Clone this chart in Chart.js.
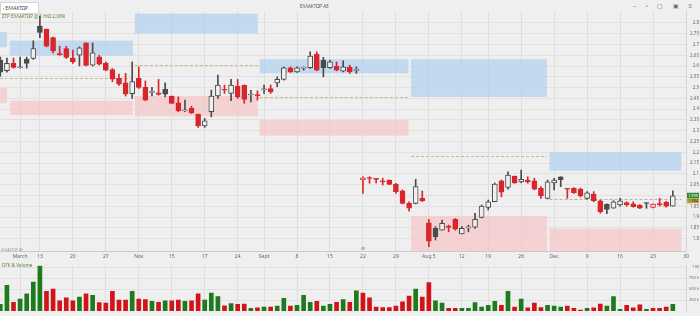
<!DOCTYPE html>
<html>
<head>
<meta charset="utf-8">
<script src="https://cdn.jsdelivr.net/npm/chart.js@4.4.1/dist/chart.umd.min.js"></script>
<style>
body{margin:0;background:#efefef;font-family:"Noto Sans",sans-serif;}
#wrap{position:relative;width:700px;height:316px;overflow:hidden;background:#efefef;}
#cPrice{position:absolute;left:0;top:0;}
#cVol{position:absolute;left:0;top:262px;}
.txt{position:absolute;white-space:nowrap;font-size:4.5px;color:#444;}
#sym{left:0;top:2px;width:35px;height:10px;background:#fff;border:1px solid #d6d6d6;line-height:10px;padding-left:2px;color:#333;}
#title{left:300px;top:3px;color:#555;}
#leg{left:2px;top:13px;color:#5f7f3f;}
#bottomName{left:1px;top:247px;color:#999;font-size:3.5px;}
#volName{left:2px;top:262px;color:#4f7f2f;}
#icons{right:4px;top:2px;color:#666;font-size:6px;letter-spacing:4px;}
#evt{left:361px;top:245px;color:#777;font-size:5px;}
</style>
</head>
<body>
<div id="wrap">
  <canvas id="cPrice" width="700" height="262"></canvas>
  <canvas id="cVol" width="700" height="54"></canvas>
  <div class="txt" id="sym">‹ ΕΛΛΑΚΤΩΡ</div>
  <div class="txt" id="title">ΕΛΛΑΚΤΩΡ ΑΕ</div>
  <div class="txt" id="leg">ΣΤΡ ΕΛΛΑΚΤΩΡ @ 1 Η/Ω 2,06%</div>
  <div class="txt" id="bottomName">ΕΛΛΑΚΤΩΡ ΑΕ</div>
  <div class="txt" id="volName">ΟΓΚ &amp; Volume</div>
  <div class="txt" id="icons">– ▫ ▢ ▣ ≡</div>
  <div class="txt" id="evt">⊜</div>
</div>
<script>
// daily candles
let opens  = [2.627,2.578,2.612,2.592,2.632,2.635,2.785,2.771,2.732,2.658,2.681,2.638,2.650,2.707,2.604,2.643,2.612,2.584,2.543,2.522,
              2.472,2.543,2.501,2.478,2.476,2.492,2.461,2.430,2.392,2.404,2.377,2.322,2.388,2.461,2.491,2.473,2.507,2.512,2.466,2.466,
              2.490,2.496,2.522,2.538,2.592,2.573,2.590,2.592,2.654,2.627,2.592,2.600,2.576,2.594,2.580,
              2.072,2.081,2.076,2.065,2.072,2.052,2.022,1.964,1.964,1.987,1.874,1.848,1.840,1.859,1.890,1.822,1.850,1.853,1.899,1.945,
              1.971,2.068,2.038,2.090,2.063,2.072,2.068,2.033,1.987,2.059,2.087,2.031,2.033,2.029,1.987,2.007,1.976,1.959,1.941,1.956,
              1.967,1.961,1.955,1.965,1.945,1.959,1.968,1.951];
let highs  = [2.641,2.637,2.637,2.641,2.641,2.717,2.831,2.771,2.734,2.692,2.692,2.674,2.689,2.707,2.707,2.650,2.619,2.589,2.563,2.566,
              2.619,2.596,2.531,2.501,2.538,2.522,2.461,2.457,2.442,2.414,2.377,2.357,2.488,2.558,2.512,2.538,2.538,2.512,2.488,2.485,
              2.512,2.512,2.550,2.596,2.596,2.596,2.596,2.666,2.666,2.640,2.627,2.619,2.624,2.604,2.596,
              2.087,2.087,2.078,2.080,2.072,2.057,2.026,1.971,2.075,2.021,1.890,1.856,1.886,1.863,1.893,1.856,1.863,1.918,1.956,1.979,
              2.058,2.072,2.110,2.090,2.118,2.087,2.080,2.041,2.072,2.080,2.087,2.033,2.037,2.035,2.018,2.018,1.979,1.961,1.976,1.987,
              1.971,1.971,1.958,1.966,1.962,1.987,1.973,2.022];
let lows   = [2.553,2.572,2.590,2.590,2.590,2.631,2.732,2.689,2.661,2.650,2.635,2.612,2.600,2.600,2.600,2.604,2.578,2.527,2.510,2.461,
              2.450,2.496,2.439,2.461,2.465,2.457,2.427,2.388,2.388,2.380,2.316,2.316,2.365,2.450,2.473,2.439,2.450,2.427,2.434,2.442,
              2.473,2.473,2.504,2.535,2.570,2.570,2.581,2.589,2.578,2.550,2.589,2.578,2.573,2.566,2.566,
              2.010,2.057,2.058,2.049,2.050,2.010,1.961,1.928,1.961,1.972,1.763,1.794,1.840,1.832,1.840,1.822,1.832,1.848,1.896,1.933,
              1.971,1.994,2.029,2.056,2.059,2.057,2.026,1.987,1.984,2.026,2.041,1.987,2.010,1.993,1.983,1.971,1.918,1.916,1.941,1.951,
              1.951,1.946,1.939,1.941,1.943,1.951,1.946,1.951];
let closes = [2.572,2.612,2.594,2.596,2.612,2.681,2.756,2.692,2.670,2.652,2.640,2.619,2.684,2.603,2.661,2.609,2.581,2.539,2.516,2.470,
              2.528,2.501,2.442,2.480,2.468,2.470,2.427,2.393,2.395,2.383,2.322,2.346,2.461,2.512,2.488,2.512,2.457,2.445,2.468,2.463,
              2.492,2.480,2.538,2.592,2.573,2.592,2.594,2.646,2.581,2.592,2.619,2.581,2.596,2.573,2.581,
              2.082,2.079,2.075,2.064,2.052,2.018,1.964,1.941,2.041,1.975,1.789,1.809,1.871,1.852,1.844,1.848,1.851,1.890,1.951,1.971,
              2.053,2.015,2.095,2.059,2.075,2.063,2.029,1.998,2.064,2.072,2.073,2.029,2.013,1.998,2.013,1.976,1.925,1.936,1.971,1.976,
              1.956,1.948,1.941,1.963,1.960,1.958,1.951,1.999];
// volume in thousands
let volumes = [150,590,200,270,390,660,1030,450,500,230,300,230,320,390,360,190,180,450,250,250,
               450,270,260,220,200,230,230,250,220,230,390,250,410,330,120,170,150,160,60,70,
               90,90,110,290,110,130,360,200,220,110,150,200,260,200,460,
               410,300,90,80,80,110,210,340,500,320,650,230,180,60,60,60,60,190,90,130,
               220,130,450,90,270,70,180,80,130,110,90,110,60,20,60,70,160,110,330,40,
               130,70,140,40,60,60,90,150];
let prevClose = 2.570;

// week grid / labels
let weekIdx   = [3,6,11,16,21,26,31,36,40,45,50,55,60,65,70,74,79,84,89,94,99,104];
let weekLabel = ['March','13','20','27','Nov','15','17','24','Sept','8','15','22','29','Aug 5','12','19','26','Dec','9','16','23','30'];

let priceTicks = [1.8,1.85,1.9,1.95,2.0,2.05,2.1,2.15,2.2,2.25,2.3,2.35,2.4,2.45,2.5,2.55,2.6,2.65,2.7,2.75,2.8];
let priceLabels = ['1.8','1.85','1.9','1.95','2','2.05','2.1','2.15','2.2','2.25','2.3','2.35','2.4','2.45','2.5','2.55','2.6','2.65','2.7','2.75','2.8'];
let volTicks = [250,500,750,1000];
let volLabels = ['250 k','500 k','750 k','1 M'];

// zones per month: start/end in candle index, supply (blue), demand (pink), pivot (dashed)
let zoneFrom = [-0.05, 1.45, 20.4, 39.35, 62.3, 83.3];
let zoneTo   = [1.0, 20.1, 39.05, 61.9, 82.9, 103.3];
let blueLo   = [2.687, 2.648, 2.751, 2.566, 2.457, 2.115];
let blueHi   = [2.757, 2.718, 2.843, 2.632, 2.632, 2.201];
let pinkLo   = [2.428, 2.373, 2.368, 2.277, 1.740, 1.740];
let pinkHi   = [2.498, 2.439, 2.461, 2.350, 1.905, 1.847];
let pivot    = [2.545, 2.545, 2.604, 2.457, 2.183, 1.984];

const BG = '#efefef';
const RED = '#d8262c';
const DARK = '#4b4b4b';
const VGREEN = '#1d7a1d';
const VRED = '#d01419';

let candleColor = closes.map((c, i) => c >= (i === 0 ? prevClose : closes[i - 1]) ? DARK : RED);
let volColor = candleColor.map(c => c === RED ? VRED : VGREEN);

function weekTicks(scale){
    scale.ticks = weekIdx.map(v => ({value: v}));
}

let zonePlugin = {
    id: 'zones',
    beforeDatasetsDraw(chart){
        let ctx = chart.ctx, xs = chart.scales.x, ys = chart.scales.y, a = chart.chartArea;
        ctx.save();
        ctx.beginPath();
        ctx.rect(a.left, a.top, a.right - a.left, a.bottom - a.top);
        ctx.clip();
        for(let i in zoneFrom){
            let x1 = xs.getPixelForValue(zoneFrom[i]), x2 = xs.getPixelForValue(zoneTo[i]);
            ctx.fillStyle = 'rgba(178,208,240,0.72)';
            let b1 = ys.getPixelForValue(blueHi[i]), b2 = ys.getPixelForValue(blueLo[i]);
            ctx.fillRect(x1, b1, x2 - x1, b2 - b1);
            ctx.fillStyle = 'rgba(246,196,200,0.7)';
            let p1 = ys.getPixelForValue(pinkHi[i]), p2 = ys.getPixelForValue(pinkLo[i]);
            ctx.fillRect(x1, p1, x2 - x1, p2 - p1);
            if(pivot[i] !== null){
                let y = Math.round(ys.getPixelForValue(pivot[i])) + 0.5;
                ctx.strokeStyle = i == 5 ? '#b9b2a6' : '#cdb68c';
                ctx.lineWidth = 1;
                ctx.setLineDash([3, 2]);
                ctx.beginPath();
                ctx.moveTo(x1, y);
                ctx.lineTo(x2, y);
                ctx.stroke();
            }
        }
        ctx.restore();
    },
    afterDraw(chart){
        // last price tag on the axis
        let ctx = chart.ctx, ys = chart.scales.y, a = chart.chartArea;
        let last = closes[closes.length - 1];
        let y = ys.getPixelForValue(last);
        ctx.save();
        ctx.fillStyle = '#2f8a2f';
        ctx.fillRect(a.right + 1, y - 3, 12, 5.5);
        ctx.fillStyle = '#b7a640';
        ctx.fillRect(a.right + 1, y + 2.5, 12, 5);
        ctx.font = '4px "Noto Sans"';
        ctx.fillStyle = '#fff';
        ctx.textAlign = 'center';
        ctx.textBaseline = 'middle';
        ctx.fillText(last.toFixed(3), a.right + 7, y - 0.2);
        ctx.fillStyle = '#333';
        ctx.fillText('1.984', a.right + 7, y + 5);
        ctx.restore();
    }
};

let priceChart = new Chart(document.getElementById('cPrice'), {
    type: 'bar',
    data: {
        datasets: [
            {
                label: 'body',
                data: opens.map((o, i) => ({x: i, y: [o, closes[i]]})),
                backgroundColor: closes.map((c, i) => c < opens[i] ? candleColor[i] : BG),
                borderColor: candleColor,
                borderWidth: 1,
                borderSkipped: false,
                barThickness: 5,
                minBarLength: 1,
                grouped: false,
                order: 0
            },
            {
                label: 'wick',
                data: lows.map((l, i) => ({x: i, y: [l, highs[i]]})),
                backgroundColor: candleColor,
                borderWidth: 0,
                barThickness: 1,
                grouped: false,
                order: 1
            }
        ]
    },
    options: {
        responsive: false,
        animation: false,
        layout: {padding: {top: 11, right: 1, left: 0, bottom: 0}},
        plugins: {legend: {display: false}, tooltip: {enabled: false}},
        scales: {
            x: {
                type: 'linear', min: -0.05, max: 104, offset: false,
                afterBuildTicks: weekTicks,
                afterFit: s => { s.height = 11; },
                ticks: {autoSkip: false, maxRotation: 0, padding: 3, color: '#666', font: {size: 5, family: 'Noto Sans'},
                        callback: (v, i) => weekLabel[i]},
                grid: {color: '#dedede', drawTicks: false, offset: false},
                border: {color: '#cacaca'}
            },
            y: {
                position: 'right', min: 1.743, max: 2.855,
                afterBuildTicks: s => { s.ticks = priceTicks.map(v => ({value: v})); },
                afterFit: s => { s.width = 13; },
                ticks: {color: '#666', padding: 1, crossAlign: 'far', font: {size: 4.5, family: 'Noto Sans'},
                        callback: (v, i) => priceLabels[i]},
                grid: {color: '#e1e1e1', drawTicks: false},
                border: {color: '#d4d4d4'}
            }
        }
    },
    plugins: [zonePlugin]
});

let volChart = new Chart(document.getElementById('cVol'), {
    type: 'bar',
    data: {
        datasets: [{
            data: volumes.map((v, i) => ({x: i, y: v})),
            backgroundColor: volColor,
            barThickness: 4
        }]
    },
    options: {
        responsive: false,
        animation: false,
        layout: {padding: {top: 0, right: 1, left: 0, bottom: 5}},
        plugins: {legend: {display: false}, tooltip: {enabled: false}},
        scales: {
            x: {
                type: 'linear', min: -0.05, max: 104, offset: false,
                afterBuildTicks: weekTicks,
                afterFit: s => { s.height = 0; },
                ticks: {display: false},
                grid: {color: '#dedede', drawTicks: false, offset: false},
                border: {display: false}
            },
            y: {
                position: 'right', min: 0, max: 1043,
                afterBuildTicks: s => { s.ticks = volTicks.map(v => ({value: v})); },
                afterFit: s => { s.width = 13; },
                ticks: {color: '#666', padding: 1, crossAlign: 'far', font: {size: 4, family: 'Noto Sans'},
                        callback: (v, i) => volLabels[i]},
                grid: {color: '#e1e1e1', drawTicks: false},
                border: {color: '#d4d4d4'}
            }
        }
    }
});
</script>
</body>
</html>
